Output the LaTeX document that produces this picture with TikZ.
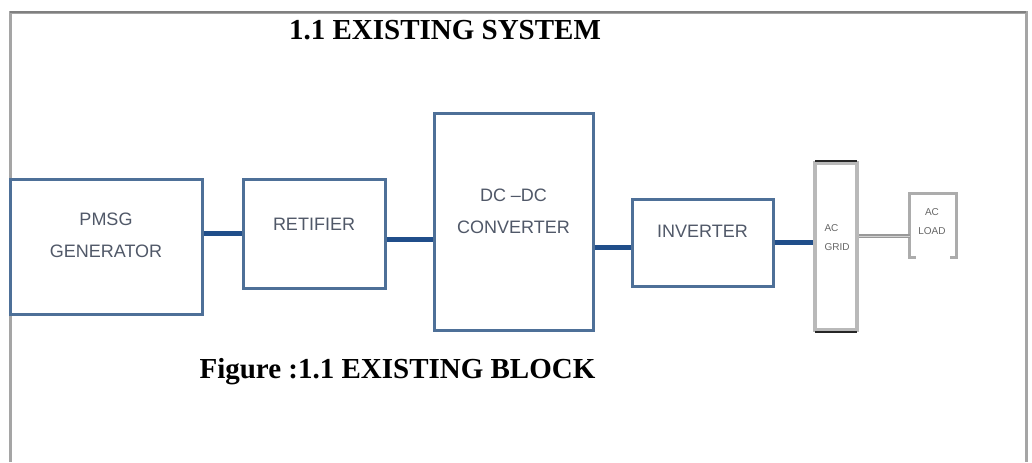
\documentclass[tikz,border=0pt]{standalone}
\usepackage{fontspec}
\setmainfont{Liberation Serif}
\newfontfamily\blockfont{Liberation Sans}
\usetikzlibrary{positioning}

\definecolor{blockblue}{RGB}{78,112,152}
\definecolor{linkblue}{RGB}{32,78,138}
\definecolor{blocktext}{RGB}{80,88,104}
\definecolor{framegray}{RGB}{165,165,165}

\tikzset{
  block/.style={rectangle, draw=blockblue, line width=1.5pt, fill=white, inner sep=0pt},
  blocklabel/.style={align=center, text=blocktext, font=\blockfont\fontsize{9}{16}\selectfont},
  smalllabel/.style={align=left, text=gray!80!black, font=\blockfont\fontsize{5}{9.5}\selectfont},
  link/.style={draw=linkblue, line width=2.5pt},
  acline/.style={draw=gray!80, double=gray!35, double distance=0.8pt, line width=0.6pt},
}

\begin{document}
\begin{tikzpicture}[x=0.5pt, y=-0.5pt]
    \useasboundingbox (0,0) rectangle (1032,462);

    % page frame
    \draw[framegray, line width=1.5pt] (10,462) -- (10,12) -- (1026,12) -- (1026,462);
    \draw[gray, line width=0.8pt] (10,12) -- (1026,12);

    \node[font=\bfseries\fontsize{14.5}{16}\selectfont] (title) at (445, 30) {1.1 EXISTING SYSTEM};

    \node[block, minimum width=96pt,   minimum height=67.5pt]  (pmsg)     at (106, 246.5) {};
    \node[block, minimum width=71pt,   minimum height=54.5pt]  (retifier) at (314, 233.5) {};
    \node[block, minimum width=79.5pt, minimum height=108.5pt] (dcdc)     at (513.5, 221.5) {};
    \node[block, minimum width=70.5pt, minimum height=43.5pt]  (inverter) at (702.5, 242.5) {};
    \node[block, draw=gray!55, line width=2pt, minimum width=21pt, minimum height=83.5pt] (grid) at (836, 246.5) {};
    \node[rectangle, minimum width=23pt, minimum height=31.5pt, inner sep=0pt] (load) at (933, 225.5) {};

    \node[blocklabel] (pmsg_text)     at (106, 235)     {PMSG\\GENERATOR};
    \node[blocklabel] (retifier_text) at (314, 224)     {RETIFIER};
    \node[blocklabel] (dcdc_text)     at (513.5, 211.5) {DC –DC\\CONVERTER};
    \node[blocklabel] (inverter_text) at (702.5, 231)   {INVERTER};
    \node[smalllabel] (grid_text)     at (837, 237.5)   {AC\\GRID};
    \node[smalllabel, align=center] (load_text) at (932, 222) {AC\\LOAD};

    \draw[gray!30!black, line width=0.8pt] ([xshift=1pt]grid.north west) -- ([xshift=-1pt]grid.north east);
    \draw[gray!30!black, line width=0.8pt] ([xshift=1pt]grid.south west) -- ([xshift=-1pt]grid.south east);
    \draw[gray!65, line width=1.5pt] ([xshift=3pt]load.south west) -- (load.south west)
      -- (load.north west) -- (load.north east) -- (load.south east) -- ([xshift=-3pt]load.south east);

    \draw[link]   (pmsg.east |- retifier.west) -- (retifier.west);
    \draw[link]   (retifier.-5)                -- (dcdc.west |- retifier.-5);
    \draw[link]   (dcdc.east |- inverter.184)  -- (inverter.184);
    \draw[link]   (inverter.east)              -- (grid.west |- inverter.east);
    \draw[acline] (grid.east |- load.205)      -- (load.205);

    \node[font=\bfseries\fontsize{14.5}{16}\selectfont] (caption) at (397.5, 372) {Figure :1.1 EXISTING BLOCK};
\end{tikzpicture}
\end{document}
